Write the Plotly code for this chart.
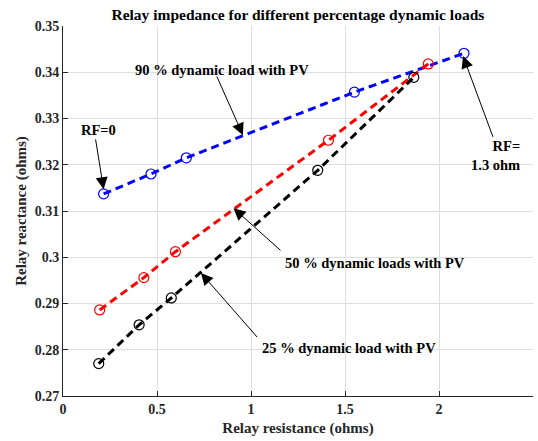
import plotly.graph_objects as go

# Data (relay resistance, relay reactance) in ohms
x_90 = [0.216, 0.468, 0.656, 1.550, 2.133]
y_90 = [0.3137, 0.3180, 0.3215, 0.3357, 0.3441]

x_50 = [0.195, 0.430, 0.598, 1.412, 1.943]
y_50 = [0.2886, 0.2956, 0.3012, 0.3253, 0.3418]

x_25 = [0.190, 0.405, 0.576, 1.355, 1.866]
y_25 = [0.2770, 0.2854, 0.2912, 0.3188, 0.3389]

x_ticks = [0, 0.5, 1, 1.5, 2, 2.5]
x_tick_labels = ["0", "0.5", "1", "1.5", "2", "2.5"]
y_ticks = [0.27, 0.28, 0.29, 0.30, 0.31, 0.32, 0.33, 0.34, 0.35]
y_tick_labels = ["0.27", "0.28", "0.29", "0.3", "0.31", "0.32", "0.33", "0.34", "0.35"]

FONT = "Liberation Serif"

fig = go.Figure()
for xs, ys, col in [(x_90, y_90, "#0000ff"), (x_50, y_50, "#ff0000"), (x_25, y_25, "#000000")]:
    fig.add_trace(go.Scatter(
        x=xs, y=ys, mode="lines+markers",
        line=dict(color=col, width=3, dash="8px,5px"),
        marker=dict(symbol="circle-open", size=10, color=col, line=dict(width=1.2, color=col)),
        showlegend=False, hoverinfo="skip",
    ))

annots = []
def text(x, y, s, xanchor="center", align="center"):
    annots.append(dict(x=x, y=y, xref="x", yref="y", text=s, showarrow=False,
                       xanchor=xanchor, yanchor="middle", align=align,
                       font=dict(family=FONT, size=14.5, color="black", weight="bold")))

def arrow(x0, y0, x1, y1):
    annots.append(dict(x=x1, y=y1, ax=x0, ay=y0, xref="x", yref="y", axref="x", ayref="y",
                       text="", showarrow=True, arrowhead=2, arrowsize=2.4, arrowwidth=1,
                       arrowcolor="black", standoff=0, startstandoff=0))

text(0.845, 0.3405, "90 % dynamic load with PV")
arrow(0.815, 0.3394, 0.957, 0.3264)
text(0.188, 0.3275, "RF=0")
arrow(0.172, 0.3258, 0.216, 0.3147)
text(2.44, 0.3220, "RF=<br>1.3 ohm", xanchor="right", align="right")
arrow(2.29, 0.3257, 2.128, 0.3435)
text(1.661, 0.2987, "50 % dynamic loads with PV")
arrow(1.165, 0.3012, 0.907, 0.3106)
text(1.523, 0.2803, "25 % dynamic load with PV")
arrow(1.040, 0.2824, 0.734, 0.2966)

axis_common = dict(
    showgrid=True, gridcolor="#dedede", gridwidth=1,
    showline=True, linecolor="#262626", linewidth=1,
    ticks="inside", ticklen=5, tickcolor="#262626",
    tickfont=dict(family=FONT, size=14, color="#262626", weight="bold"),
    zeroline=False, mirror=False, automargin=False,
)

fig.update_layout(
    width=538, height=441,
    margin=dict(l=63, r=5, t=26, b=45),
    paper_bgcolor="white", plot_bgcolor="white",
    title=dict(text="Relay impedance for different percentage dynamic loads",
               x=0.5537, xanchor="center", y=1 - 15 / 441, yanchor="middle",
               font=dict(family=FONT, size=15.5, color="black", weight="bold")),
    xaxis=dict(range=[0, 2.5], tickvals=x_ticks, ticktext=x_tick_labels,
               title=dict(text="Relay resistance (ohms)", standoff=6,
                          font=dict(family=FONT, size=15, color="#262626", weight="bold")),
               **axis_common),
    yaxis=dict(range=[0.27, 0.35], tickvals=y_ticks, ticktext=y_tick_labels,
               title=dict(text="Relay reactance (ohms)", standoff=4,
                          font=dict(family=FONT, size=15, color="#262626", weight="bold")),
               **axis_common),
    annotations=annots,
)

fig.write_html("out.html", config={"displayModeBar": False},
               post_script="document.body.style.margin='0';document.body.style.padding='0';")
